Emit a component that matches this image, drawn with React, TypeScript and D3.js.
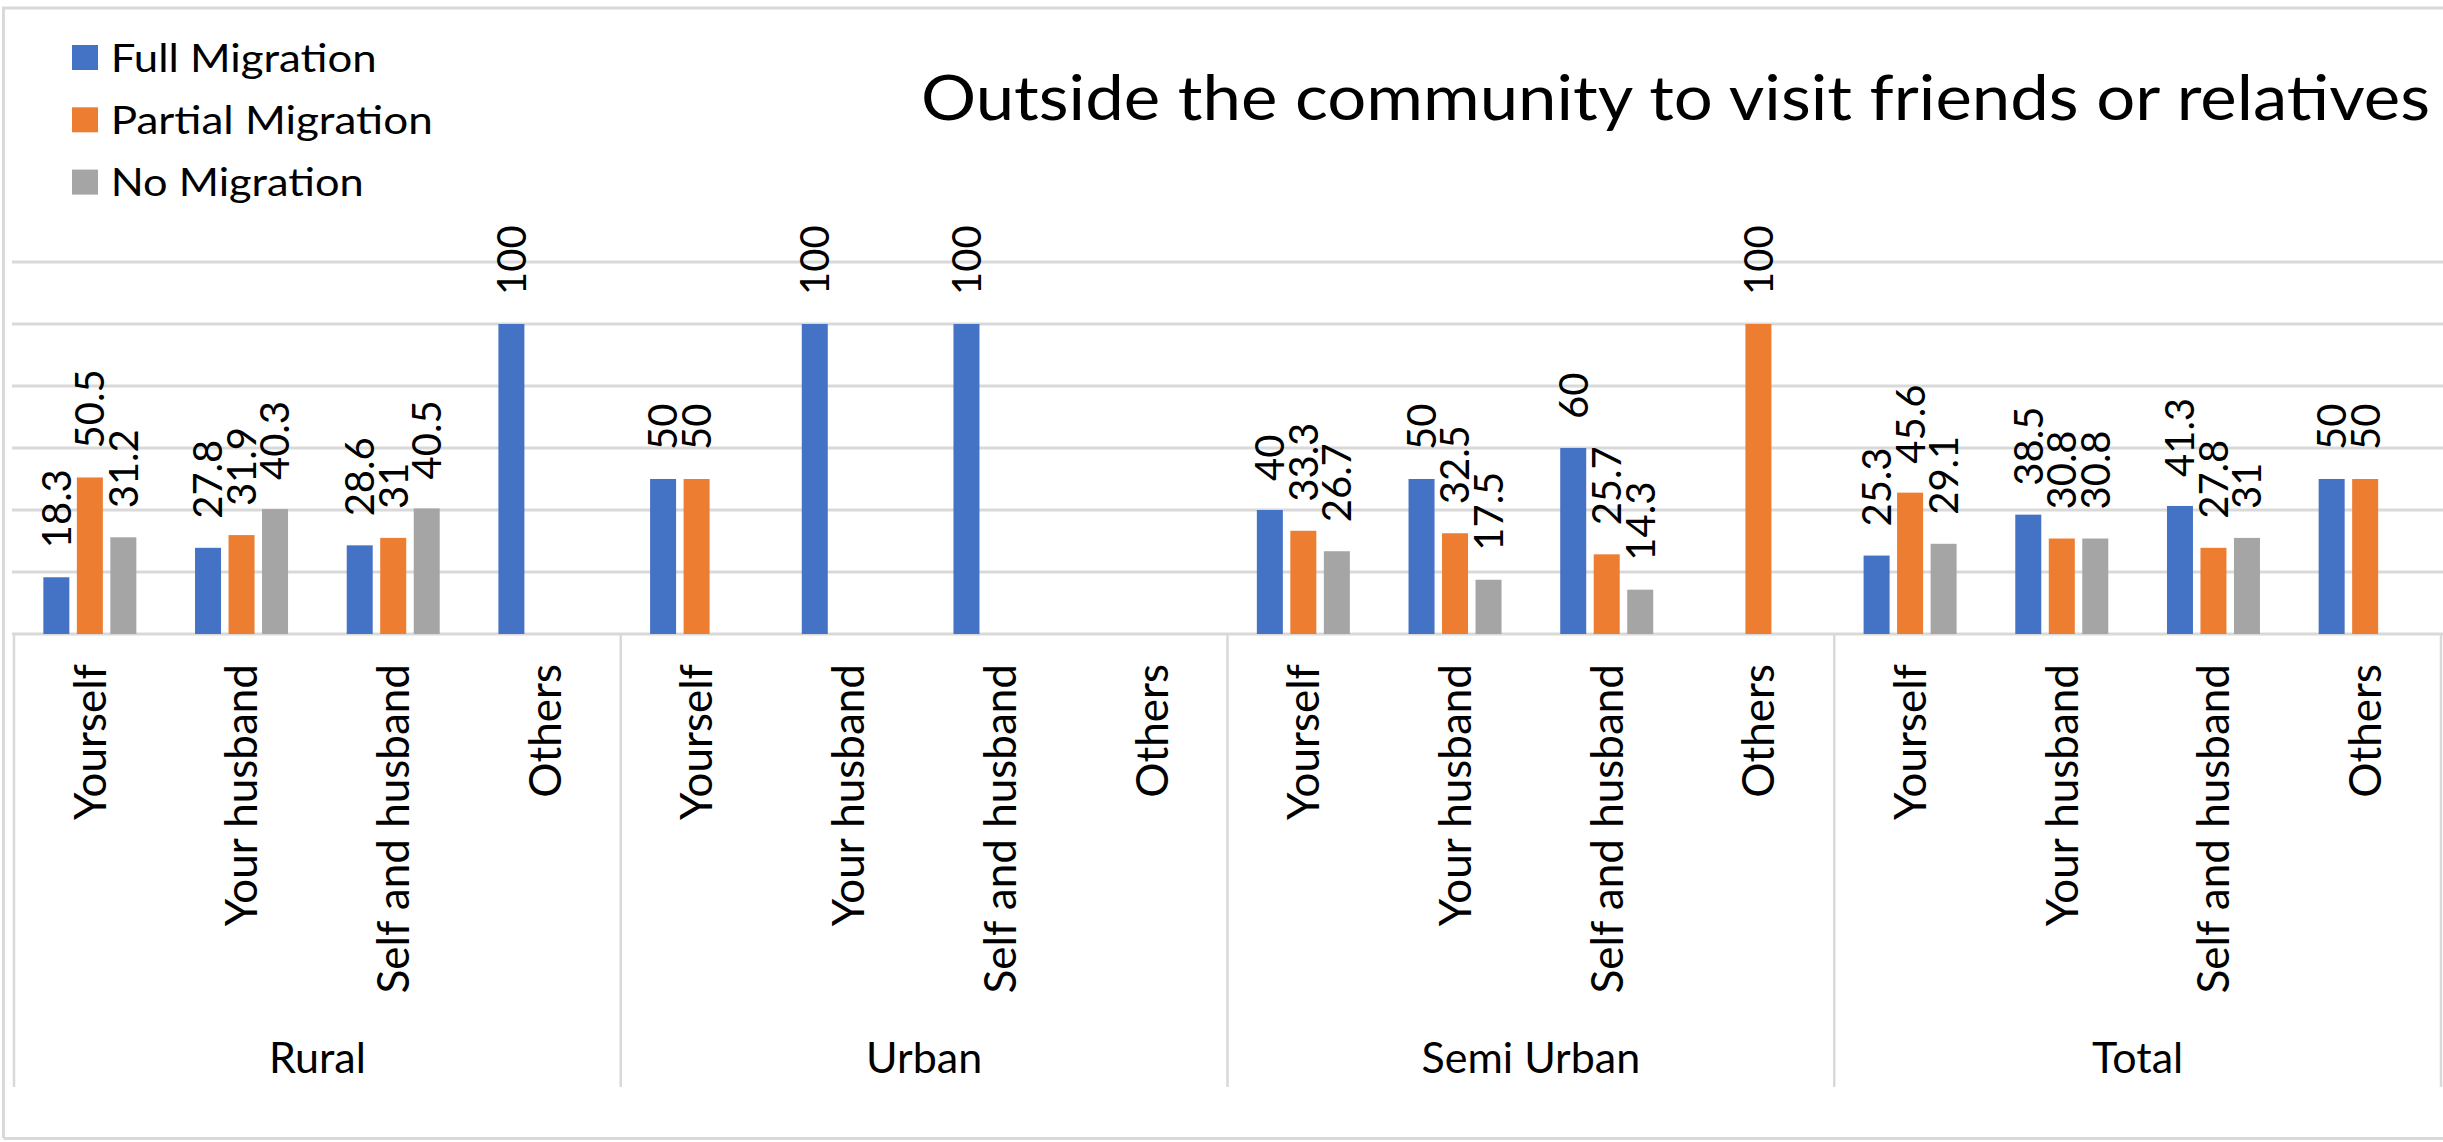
import React from "react";
import * as d3 from "d3";

const groups = ["Rural", "Urban", "Semi Urban", "Total"];
const categories = ["Yourself", "Your husband", "Self and husband", "Others"];
const seriesNames = ["Full Migration", "Partial Migration", "No Migration"];
const seriesColors = ["#4472C4", "#ED7D31", "#A5A5A5"];

// values per (group, category) in order Rural.., Urban.., Semi Urban.., Total..
const fullMigration = [18.3, 27.8, 28.6, 100, 50, 100, 100, null, 40, 50, 60, null, 25.3, 38.5, 41.3, 50];
const partialMigration = [50.5, 31.9, 31, null, 50, null, null, null, 33.3, 32.5, 25.7, 100, 45.6, 30.8, 27.8, 50];
const noMigration = [31.2, 40.3, 40.5, null, null, null, null, null, 26.7, 17.5, 14.3, null, 29.1, 30.8, 31, null];
const seriesValues = [fullMigration, partialMigration, noMigration];

const yMax = 120;
const yStep = 20;

const title = "Outside the community to visit friends or relatives";

export default function App() {
  const W = 2443;
  const H = 1142;
  const plotL = 14;
  const plotR = 2441;
  const base = 634;
  const yTopPx = 262;
  const axisBottom = 1087;
  const font = "Lato, 'Open Sans', sans-serif";

  const keys: string[] = [];
  groups.forEach((g) => categories.forEach((c) => keys.push(g + "|" + c)));

  const x0 = d3.scaleBand<string>().domain(keys).range([plotL, plotR]).paddingInner(0).paddingOuter(0);
  const x1 = d3.scaleBand<string>().domain(seriesNames).range([0, 93]).paddingInner(0.224);
  const y = d3.scaleLinear().domain([0, yMax]).range([base, yTopPx]);
  const gridVals = d3.range(0, yMax + yStep, yStep);
  const groupW = (plotR - plotL) / groups.length;
  const clusterOffset = (x0.bandwidth() - 93) / 2;

  const legendWidths = [266, 322, 253];

  return (
    <svg width={W} height={H} style={{ position: "absolute", left: 0, top: 0, background: "#fff" }}>
      <rect x={0} y={0} width={W} height={H} fill="#fff" />
      {/* outer border */}
      <path d={`M3.5,1138 L3.5,8 L${W},8`} fill="none" stroke="#d9d9d9" strokeWidth={3} />
      <line x1={3.5} x2={W} y1={1138.5} y2={1138.5} stroke="#d9d9d9" strokeWidth={3} />

      {/* gridlines */}
      {gridVals.map((v) => (
        <line key={v} x1={12} x2={W} y1={y(v)} y2={y(v)} stroke="#d9d9d9" strokeWidth={3} />
      ))}

      {/* group separators */}
      {d3.range(groups.length + 1).map((i) => (
        <line
          key={"sep" + i}
          x1={plotL + i * groupW}
          x2={plotL + i * groupW}
          y1={base}
          y2={axisBottom}
          stroke="#d9d9d9"
          strokeWidth={2.5}
        />
      ))}

      {/* bars */}
      {seriesValues.map((vals, si) =>
        vals.map((v, ki) => {
          if (v == null) return null;
          const bx = (x0(keys[ki]) as number) + clusterOffset + (x1(seriesNames[si]) as number);
          return (
            <rect
              key={si + "-" + ki}
              x={bx}
              y={y(v)}
              width={x1.bandwidth()}
              height={base - y(v)}
              fill={seriesColors[si]}
            />
          );
        })
      )}

      {/* value labels */}
      {seriesValues.map((vals, si) =>
        vals.map((v, ki) => {
          if (v == null) return null;
          const cx = (x0(keys[ki]) as number) + clusterOffset + (x1(seriesNames[si]) as number) + x1.bandwidth() / 2;
          const ty = y(v) - 29;
          return (
            <text
              key={"l" + si + "-" + ki}
              transform={`translate(${cx},${ty}) rotate(-90)`}
              dy="0.36em"
              textAnchor="start"
              fontFamily={font}
              fontSize={40}
              fill="#000"
            >
              {String(v)}
            </text>
          );
        })
      )}

      {/* category labels */}
      {keys.map((k) => {
        const cx = (x0(k) as number) + x0.bandwidth() / 2;
        const label = k.split("|")[1];
        return (
          <text
            key={"c" + k}
            transform={`translate(${cx},664) rotate(-90)`}
            dy="0.36em"
            textAnchor="end"
            fontFamily={font}
            fontSize={44}
            fill="#000"
          >
            {label}
          </text>
        );
      })}

      {/* group labels */}
      {groups.map((g, i) => (
        <text
          key={"g" + g}
          x={plotL + (i + 0.5) * groupW}
          y={1073}
          textAnchor="middle"
          fontFamily={font}
          fontSize={43}
          fill="#000"
        >
          {g}
        </text>
      ))}

      {/* legend */}
      {seriesNames.map((s, i) => (
        <g key={"lg" + s} transform={`translate(0,${i * 62.3})`}>
          <rect x={72} y={45} width={26} height={25} fill={seriesColors[i]} />
          <text
            x={110.7}
            y={71.7}
            fontFamily={font}
            fontSize={38}
            fill="#000"
            textLength={legendWidths[i]}
            lengthAdjust="spacingAndGlyphs"
          >
            {s}
          </text>
        </g>
      ))}

      {/* title */}
      <text
        x={921}
        y={120}
        fontFamily={font}
        fontSize={62}
        fill="#000"
        textLength={1509}
        lengthAdjust="spacingAndGlyphs"
      >
        {title}
      </text>
    </svg>
  );
}
